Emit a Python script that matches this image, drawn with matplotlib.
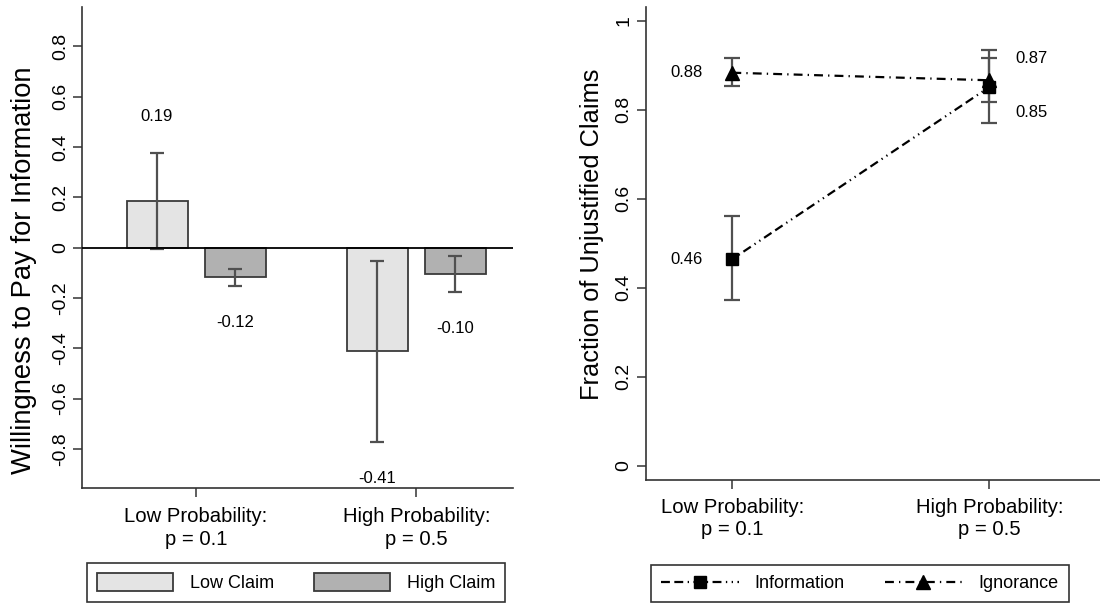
import numpy as np
import matplotlib
matplotlib.use("Agg")
import matplotlib.pyplot as plt
from matplotlib.patches import Patch
from matplotlib.lines import Line2D

plt.rcParams["font.family"] = ["Liberation Sans", "DejaVu Sans"]

# ---- data ----
groups = ["Low Probability:\np = 0.1", "High Probability:\np = 0.5"]

# left panel: willingness to pay
claim_names = ["Low Claim", "High Claim"]
wtp_low = [0.186, -0.41]
wtp_high = [-0.117, -0.104]
wtp_low_ci = [(-0.004, 0.377), (-0.771, -0.054)]
wtp_high_ci = [(-0.151, -0.085), (-0.177, -0.032)]

# right panel: fraction of unjustified claims
series_names = ["Information", "Ignorance"]
frac_info = [0.4645, 0.851]
frac_ign = [0.883, 0.866]
frac_info_ci = [(0.372, 0.561), (0.770, 0.933)]
frac_ign_ci = [(0.854, 0.917), (0.818, 0.915)]

axcol = "#333333"
errcol = "#505050"

fig = plt.figure(figsize=(11, 6.04), dpi=100)

# ================= left panel =================
ax1 = fig.add_axes([0.0745, 0.192, 0.392, 0.796])
x = np.arange(len(groups))
off = 0.177
bw = 0.277
cols = ["#e4e4e4", "#b1b1b1"]
for vals, cis, dx, c in [(wtp_low, wtp_low_ci, -off, cols[0]),
                         (wtp_high, wtp_high_ci, off, cols[1])]:
    xs = x + dx
    ax1.bar(xs, vals, width=bw, color=c, edgecolor="#3a3a3a", linewidth=1.3, zorder=2)
    v = np.array(vals)
    lo = np.array([a for a, b in cis])
    hi = np.array([b for a, b in cis])
    ax1.errorbar(xs, v, yerr=[v - lo, hi - v], fmt="none", ecolor=errcol,
                 elinewidth=1.6, capsize=5, capthick=1.6, zorder=3)
    for xi, vi, l, h in zip(xs, v, lo, hi):
        ty = h + 0.145 if vi > 0 else l - 0.145
        ax1.text(xi, ty, f"{vi:.2f}", ha="center", va="center", fontsize=12)

ax1.axhline(0, color="black", lw=1.3, zorder=4)
ax1.set_xlim(-0.518, 1.44)
ax1.set_ylim(-0.955, 0.955)
ax1.set_yticks(np.arange(-0.8, 0.81, 0.2))
ax1.set_yticklabels(["-0.8", "-0.6", "-0.4", "-0.2", "0", "0.2", "0.4", "0.6", "0.8"],
                    rotation=90, va="center")
ax1.set_xticks(x)
ax1.set_xticklabels(groups, linespacing=1.25)
ax1.set_ylabel("Willingness to Pay for Information", fontsize=19.7)
ax1.yaxis.set_label_coords(-0.104, 0.453)

# ================= right panel =================
ax2 = fig.add_axes([0.587, 0.205, 0.413, 0.783])
info_ls = (0, (4.0, 2.0, 4.0, 2.0, 0.6, 2.0, 0.6, 2.0))
ign_ls = (0, (4.0, 2.3, 0.6, 2.3))
for vals, cis, mk, ms, ls in [(frac_ign, frac_ign_ci, "^", 10, ign_ls),
                              (frac_info, frac_info_ci, "s", 8, info_ls)]:
    v = np.array(vals)
    lo = np.array([a for a, b in cis])
    hi = np.array([b for a, b in cis])
    ax2.errorbar(x, v, yerr=[v - lo, hi - v], fmt="none", ecolor=errcol,
                 elinewidth=1.6, capsize=6, capthick=1.6, zorder=2)
    ax2.plot(x, v, color="black", lw=1.6, linestyle=ls, marker=mk,
             markersize=ms, zorder=3)

ax2.text(x[0] - 0.18, frac_ign[0], f"{frac_ign[0]:.2f}", ha="center", va="center", fontsize=12)
ax2.text(x[0] - 0.18, frac_info[0], f"{frac_info[0]:.2f}", ha="center", va="center", fontsize=12)
ax2.text(x[1] + 0.163, frac_ign[1] + 0.05, f"{frac_ign[1]:.2f}", ha="center", va="center", fontsize=12)
ax2.text(x[1] + 0.163, frac_info[1] - 0.058, f"{frac_info[1]:.2f}", ha="center", va="center", fontsize=12)

ax2.set_xlim(-0.337, 1.43)
ax2.set_ylim(-0.032, 1.03)
ax2.set_yticks([0, 0.2, 0.4, 0.6, 0.8, 1.0])
ax2.set_yticklabels(["0", "0.2", "0.4", "0.6", "0.8", "1"], rotation=90, va="center")
ax2.set_xticks(x)
ax2.set_xticklabels(groups, linespacing=1.2)
ax2.set_ylabel("Fraction of Unjustified Claims", fontsize=18.3)
ax2.yaxis.set_label_coords(-0.092, 0.52)

for ax in (ax1, ax2):
    for s in ("top", "right"):
        ax.spines[s].set_visible(False)
    for s in ("left", "bottom"):
        ax.spines[s].set_color(axcol)
        ax.spines[s].set_linewidth(1.2)
    ax.tick_params(axis="both", length=6.5, width=1.1, color=axcol)
    ax.tick_params(axis="y", pad=3, labelsize=14)
    ax.tick_params(axis="x", labelsize=14.6)
ax1.tick_params(axis="x", pad=7)
ax2.tick_params(axis="x", pad=6)

# ---- legends ----
h1 = [Patch(facecolor=cols[0], edgecolor="#3a3a3a", lw=1.3),
      Patch(facecolor=cols[1], edgecolor="#3a3a3a", lw=1.3)]
leg1 = fig.legend(h1, claim_names, loc="upper left", bbox_to_anchor=(87 / 1100, 1 - 563 / 604),
                  ncol=2, fontsize=13, frameon=True, fancybox=False, edgecolor="black",
                  handlelength=4.2, handleheight=1.15, handletextpad=0.95,
                  columnspacing=2.2, borderpad=0.55, borderaxespad=0)
leg1.get_frame().set_linewidth(1.2)

h2 = [Line2D([], [], color="black", lw=1.6, linestyle=info_ls, marker="s", markersize=8),
      Line2D([], [], color="black", lw=1.6, linestyle=ign_ls, marker="^", markersize=10)]
leg2 = fig.legend(h2, series_names, loc="upper left", bbox_to_anchor=(651 / 1100, 1 - 565 / 604),
                  ncol=2, fontsize=13, frameon=True, fancybox=False, edgecolor="black",
                  handlelength=4.3, handletextpad=0.9, columnspacing=2.2,
                  borderpad=0.55, borderaxespad=0)
leg2.get_frame().set_linewidth(1.2)

fig.savefig("out.png", dpi=100)
